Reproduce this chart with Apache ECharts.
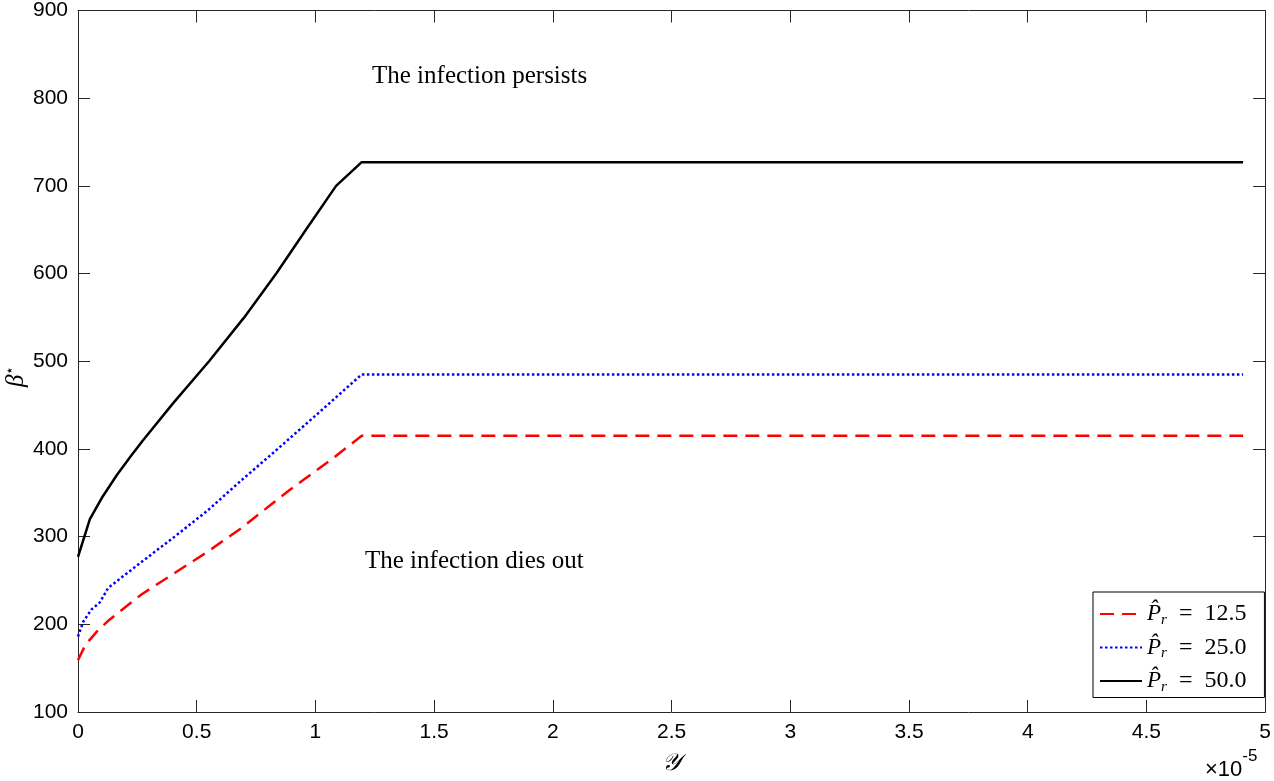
<!DOCTYPE html>
<html><head><meta charset="utf-8">
<script src="https://cdn.jsdelivr.net/npm/echarts@6/dist/echarts.min.js"></script>
<style>html,body{margin:0;padding:0;background:#fff}#c{width:1274px;height:781px}</style>
</head><body><div id="c"></div>
<script>
// x values are in units of 1e-5
const xTicks = [0, 0.5, 1, 1.5, 2, 2.5, 3, 3.5, 4, 4.5, 5];
const yTicks = [100, 200, 300, 400, 500, 600, 700, 800, 900];

const redX = [0, 0.03, 0.08, 0.127, 0.267, 0.407, 0.547, 0.687, 0.82, 0.89, 1.072, 1.195, 4.907];
const redY = [159, 176, 192, 204, 234, 258.5, 283, 309.5, 338, 353, 389, 415, 415];

const blueX = [0, 0.022, 0.057, 0.092, 0.127, 0.267, 0.407, 0.547, 0.687, 0.82, 1.017, 1.195, 4.907];
const blueY = [186, 203, 217, 225, 241.5, 271, 300, 330, 364, 395, 442, 485, 485];

const blackX = [0, 0.05, 0.1, 0.163, 0.226, 0.274, 0.4, 0.552, 0.7, 0.835, 0.96, 1.087, 1.195, 4.907];
const blackY = [277, 320, 344, 370, 393, 410, 452, 500, 550, 600, 650, 700, 727, 727];

const seriesNames = ['12.5', '25.0', '50.0'];

const pairs = (xs, ys) => xs.map((x, i) => [x, ys[i]]);
const axisCol = '#262626';
const font = 'Liberation Sans, Arial, Helvetica, sans-serif';
const serif = 'Liberation Serif, DejaVu Serif, serif';

const chart = echarts.init(document.getElementById('c'), null, {renderer: 'canvas'});
const baseX = {
  type: 'value', min: xTicks[0], max: xTicks[xTicks.length - 1], interval: xTicks[1] - xTicks[0],
  axisLine: {show: true, onZero: false, lineStyle: {color: axisCol, width: 1}},
  axisTick: {show: true, inside: true, length: 12, lineStyle: {color: axisCol}},
  splitLine: {show: false}
};
const baseY = {
  type: 'value', min: yTicks[0], max: yTicks[yTicks.length - 1], interval: yTicks[1] - yTicks[0],
  axisLine: {show: true, onZero: false, lineStyle: {color: axisCol, width: 1}},
  axisTick: {show: true, inside: true, length: 12, lineStyle: {color: axisCol}},
  splitLine: {show: false}
};
const legendRich = {
  P: {fontFamily: serif, fontStyle: 'italic', fontSize: 23, color: '#000', lineHeight: 24},
  s: {fontFamily: serif, fontStyle: 'italic', fontSize: 15, color: '#000', verticalAlign: 'bottom', padding: [12, 0, 0, 0]},
  t: {fontFamily: serif, fontSize: 24, color: '#000', lineHeight: 24}
};
chart.setOption({
  animation: false,
  backgroundColor: '#fff',
  grid: {left: 78, right: 6, top: 8, bottom: 68, containLabel: false},
  xAxis: [
    Object.assign({}, baseX, {
      position: 'bottom',
      axisLabel: {show: true, color: '#000', fontFamily: font, fontSize: 21, margin: 10,
        formatter: v => String(v)},
      name: '\uD835\uDCB4', nameLocation: 'middle', nameGap: 40,
      nameTextStyle: {fontFamily: 'DejaVu Serif, serif', fontStyle: 'italic', fontSize: 24, color: '#000'}
    }),
    Object.assign({}, baseX, {position: 'top', axisLabel: {show: false}})
  ],
  yAxis: [
    Object.assign({}, baseY, {
      position: 'left',
      axisLabel: {show: true, color: '#000', fontFamily: font, fontSize: 21, margin: 10},
    }),
    Object.assign({}, baseY, {position: 'right', axisLabel: {show: false}})
  ],
  legend: {
    left: 1093, top: 592, orient: 'vertical',
    backgroundColor: '#fff', borderColor: '#000', borderWidth: 1,
    padding: [10, 18, 3, 6], itemGap: 8, itemWidth: 42, itemHeight: 14,
    itemStyle: {color: 'rgba(0,0,0,0)', borderColor: 'rgba(0,0,0,0)', borderWidth: 0, opacity: 0},
    data: seriesNames,
    formatter: n => '{P|P\u0302}{s|r}{t|  =  ' + n + '}',
    textStyle: {rich: legendRich}
  },
  series: [
    {name: seriesNames[0], type: 'line', data: pairs(redX, redY), showSymbol: false, symbol: 'none',
     lineStyle: {color: '#ff0000', width: 2.5, type: [14, 8]}, itemStyle: {color: '#ff0000'}},
    {name: seriesNames[1], type: 'line', data: pairs(blueX, blueY), showSymbol: false, symbol: 'none',
     lineStyle: {color: '#0000ff', width: 2.5, type: [2.5, 2.5]}, itemStyle: {color: '#0000ff'}},
    {name: seriesNames[2], type: 'line', data: pairs(blackX, blackY), showSymbol: false, symbol: 'none',
     lineStyle: {color: '#000000', width: 2.5, type: 'solid'}, itemStyle: {color: '#000000'}}
  ],
  graphic: [
    {type: 'text', left: 372, top: 64, style: {text: 'The infection persists', fill: '#000',
      font: '25px "Liberation Serif", "DejaVu Serif", serif'}},
    {type: 'text', left: 365, top: 549, style: {text: 'The infection dies out', fill: '#000',
      font: '25px "Liberation Serif", "DejaVu Serif", serif'}},
    {type: 'text', x: 3, y: 387, rotation: Math.PI / 2, style: {
      text: '{b|\u03B2}{st|\u22C6}', rich: {
        b: {fontFamily: serif, fontStyle: 'italic', fontSize: 25, fill: '#000'},
        st: {fontFamily: 'DejaVu Serif, serif', fontSize: 14, fill: '#000', verticalAlign: 'top', padding: [0, 0, 12, 0]}
      }}},
    {type: 'text', left: 1205, top: 748, style: {
      text: '{m|\u00D710}{e|-5}', rich: {
        m: {fontFamily: font, fontSize: 22, fill: '#000', padding: [11, 0, 0, 0]},
        e: {fontFamily: font, fontSize: 17, fill: '#000', verticalAlign: 'top', padding: [0, 0, 11, 0]}
      }}}
  ]
});
</script></body></html>
